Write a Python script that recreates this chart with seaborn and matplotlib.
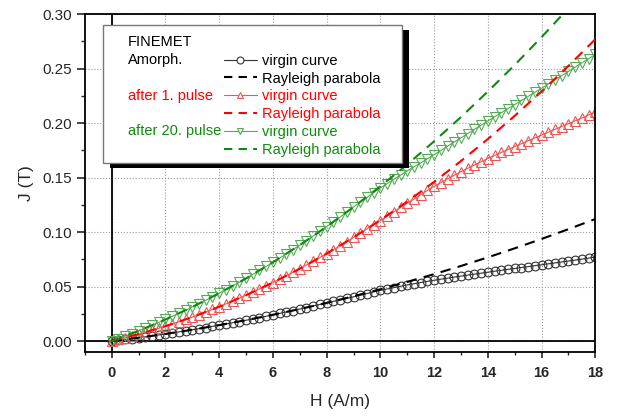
import numpy as np
import matplotlib
matplotlib.use('Agg')
import matplotlib.pyplot as plt
import seaborn as sns
from matplotlib.lines import Line2D
from matplotlib.patches import Rectangle
from matplotlib.ticker import MultipleLocator, FormatStrFormatter

sns.set_style('ticks')
plt.rcParams['font.family'] = ['Liberation Sans', 'DejaVu Sans']

# field steps of the measured virgin curves (A/m)
H_virgin = np.arange(0, 18.01, 0.25)

# virgin curves J (T), 4 points per A/m
J_amorph = [
    0.0000, 0.0007, 0.0015, 0.0023,
    0.0031, 0.0039, 0.0048, 0.0056,
    0.0065, 0.0075, 0.0084, 0.0094,
    0.0104, 0.0114, 0.0124, 0.0135,
    0.0146, 0.0157, 0.0168, 0.0179,
    0.0191, 0.0203, 0.0215, 0.0228,
    0.0241, 0.0254, 0.0267, 0.0280,
    0.0294, 0.0307, 0.0322, 0.0336,
    0.0350, 0.0364, 0.0378, 0.0392,
    0.0406, 0.0421, 0.0436, 0.0451,
    0.0465, 0.0478, 0.0490, 0.0503,
    0.0515, 0.0526, 0.0537, 0.0548,
    0.0558, 0.0568, 0.0577, 0.0587,
    0.0596, 0.0605, 0.0614, 0.0623,
    0.0632, 0.0641, 0.0649, 0.0658,
    0.0666, 0.0675, 0.0683, 0.0692,
    0.0700, 0.0709, 0.0717, 0.0726,
    0.0734, 0.0743, 0.0752, 0.0761,
    0.0770]

J_pulse1 = [
    0.0000, 0.0015, 0.0030, 0.0046,
    0.0063, 0.0080, 0.0098, 0.0117,
    0.0136, 0.0156, 0.0177, 0.0198,
    0.0220, 0.0243, 0.0267, 0.0291,
    0.0315, 0.0341, 0.0367, 0.0394,
    0.0421, 0.0449, 0.0478, 0.0507,
    0.0537, 0.0568, 0.0600, 0.0632,
    0.0664, 0.0698, 0.0732, 0.0767,
    0.0802, 0.0838, 0.0875, 0.0913,
    0.0951, 0.0990, 0.1029, 0.1068,
    0.1105, 0.1146, 0.1186, 0.1226,
    0.1265, 0.1304, 0.1343, 0.1382,
    0.1420, 0.1455, 0.1489, 0.1522,
    0.1555, 0.1586, 0.1616, 0.1646,
    0.1675, 0.1703, 0.1731, 0.1758,
    0.1785, 0.1811, 0.1838, 0.1864,
    0.1890, 0.1916, 0.1943, 0.1969,
    0.1995, 0.2021, 0.2048, 0.2074,
    0.2100]

J_pulse20 = [
    0.0000, 0.0022, 0.0045, 0.0069,
    0.0094, 0.0119, 0.0144, 0.0171,
    0.0198, 0.0226, 0.0254, 0.0283,
    0.0313, 0.0343, 0.0374, 0.0406,
    0.0439, 0.0472, 0.0506, 0.0540,
    0.0575, 0.0611, 0.0648, 0.0685,
    0.0723, 0.0761, 0.0800, 0.0840,
    0.0881, 0.0922, 0.0964, 0.1007,
    0.1050, 0.1094, 0.1138, 0.1184,
    0.1230, 0.1275, 0.1318, 0.1362,
    0.1405, 0.1445, 0.1484, 0.1522,
    0.1560, 0.1598, 0.1635, 0.1673,
    0.1710, 0.1749, 0.1788, 0.1826,
    0.1865, 0.1904, 0.1943, 0.1981,
    0.2020, 0.2058, 0.2095, 0.2133,
    0.2170, 0.2208, 0.2245, 0.2283,
    0.2320, 0.2359, 0.2398, 0.2436,
    0.2475, 0.2514, 0.2553, 0.2591,
    0.2630]

# Rayleigh parabolas, read at integer H
H_rayleigh = list(range(0, 19))
R_amorph = [0.0000, 0.0031, 0.0065, 0.0104, 0.0146, 0.0192, 0.0241, 0.0294, 0.0350, 0.0411,
            0.0475, 0.0543, 0.0614, 0.0689, 0.0768, 0.0851, 0.0937, 0.1027, 0.1120]
R_pulse1 = [0.0000, 0.0063, 0.0136, 0.0220, 0.0315, 0.0421, 0.0537, 0.0664, 0.0802, 0.0951,
            0.1110, 0.1280, 0.1461, 0.1652, 0.1854, 0.2067, 0.2291, 0.2525, 0.2770]
R_pulse20 = [0.0000, 0.0094, 0.0198, 0.0313, 0.0439, 0.0575, 0.0723, 0.0881, 0.1050, 0.1230,
             0.1420, 0.1621, 0.1833, 0.2056, 0.2290, 0.2534, 0.2789, 0.3055, 0.3332]

group_labels = ['Amorph.', 'after 1. pulse', 'after 20. pulse']
series_labels = ['virgin curve', 'Rayleigh parabola']

text_cols = ['black', '#ff0000', '#0f8a0f']
virgin_cols = ['#333333', '#ee5555', '#55aa55']
dash_cols = ['black', '#ff0000', '#0f8a0f']
markers = ['o', '^', 'v']
msizes = [6.3, 7.3, 7.3]

fig = plt.figure(figsize=(6.24, 4.17), dpi=100)
ax = fig.add_axes([0.136, 0.156, 0.818, 0.810])

ax.axhline(0, color='black', lw=1.3, zorder=1)
ax.axvline(0, color='black', lw=1.3, zorder=1)

virgin = [J_amorph, J_pulse1, J_pulse20]
rayleigh = [R_amorph, R_pulse1, R_pulse20]
for i in range(3):
    sns.lineplot(x=H_virgin, y=virgin[i], ax=ax, color=virgin_cols[i], lw=0.8,
                 marker=markers[i], markersize=msizes[i], markerfacecolor='none',
                 markeredgecolor=virgin_cols[i], markeredgewidth=0.8, zorder=2)
for i in range(3):
    sns.lineplot(x=H_rayleigh, y=rayleigh[i], ax=ax, color=dash_cols[i], lw=1.5,
                 linestyle=(0, (5, 3.5)), zorder=3)

ax.set_xlim(-1, 18)
ax.set_ylim(-0.01, 0.30)
ax.xaxis.set_major_locator(MultipleLocator(2))
ax.xaxis.set_minor_locator(MultipleLocator(1))
ax.yaxis.set_major_locator(MultipleLocator(0.05))
ax.yaxis.set_minor_locator(MultipleLocator(0.025))
ax.yaxis.set_major_formatter(FormatStrFormatter('%.2f'))
ax.set_xticks(range(0, 19, 2))
ax.grid(True, which='major', linestyle=':', color='#999999', lw=0.8)

ax.tick_params(axis='x', which='major', length=4, width=1.2, labelsize=10.5, pad=6)
ax.tick_params(axis='x', which='minor', length=2.5, width=1.0)
ax.tick_params(axis='y', which='major', length=6, width=1.2, labelsize=11)
ax.tick_params(axis='y', which='minor', length=3, width=1.0)
for lab in ax.get_xticklabels():
    lab.set_fontweight('bold')
for s in ax.spines.values():
    s.set_linewidth(1.3)
    s.set_color('black')

ax.set_xlabel('H (A/m)', fontsize=12.5, labelpad=10)
ax.set_ylabel('J (T)', fontsize=12.5, labelpad=6)

# legend box with shadow
bx0, bx1, by0, by1 = 0.0353, 0.6216, 0.559, 0.9675
ax.add_patch(Rectangle((bx0 + 0.0137, by0 - 0.0148), bx1 - bx0, by1 - by0,
                       transform=ax.transAxes, facecolor='black', edgecolor='none',
                       zorder=5, clip_on=False))
ax.add_patch(Rectangle((bx0, by0), bx1 - bx0, by1 - by0, transform=ax.transAxes,
                       facecolor='white', edgecolor='#777777', lw=1.0, zorder=6,
                       clip_on=False))

handles = []
labels = []
cols = []
for i in range(3):
    handles.append(Line2D([], [], color=virgin_cols[i], lw=0.8, marker=markers[i],
                          markersize=5, markerfacecolor='white',
                          markeredgecolor=virgin_cols[i], markeredgewidth=0.8))
    labels.append(series_labels[0])
    cols.append(text_cols[i])
    handles.append(Line2D([], [], color=dash_cols[i], lw=1.5, linestyle=(0, (4, 3))))
    labels.append(series_labels[1])
    cols.append(text_cols[i])

leg = ax.legend(handles, labels, loc='upper left', bbox_to_anchor=(0.272, 0.883),
                frameon=False, fontsize=10.5, handlelength=2.3, handletextpad=0.35,
                labelspacing=0.265, borderpad=0, borderaxespad=0, labelcolor=cols)
leg.set_zorder(7)

ax.text(0.0843, 0.918, 'FINEMET', transform=ax.transAxes, fontsize=10.5,
        va='center', ha='left', color='black', zorder=7)
group_y = [0.864, 0.757, 0.654]
for i in range(3):
    ax.text(0.0843, group_y[i], group_labels[i], transform=ax.transAxes, fontsize=10.5,
            va='center', ha='left', color=text_cols[i], zorder=7)

fig.savefig('out.png', dpi=100)
